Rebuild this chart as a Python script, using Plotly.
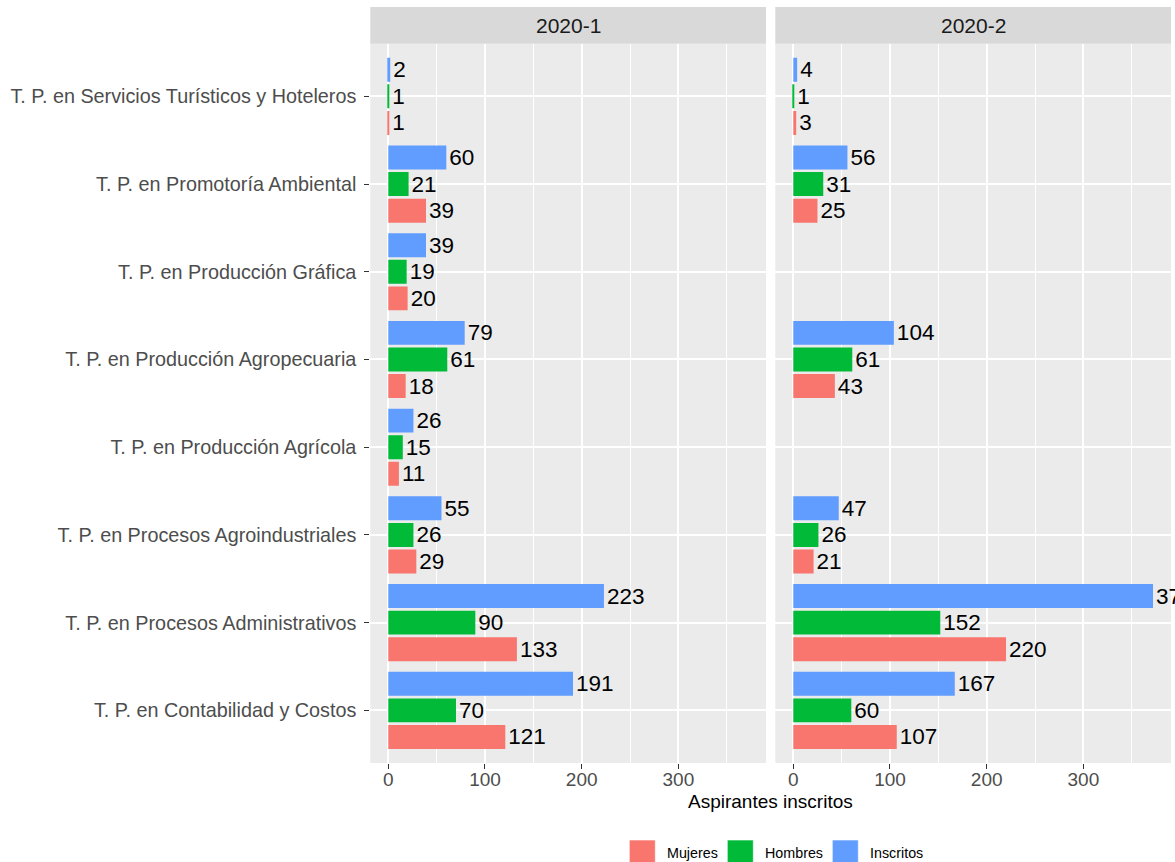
import plotly.graph_objects as go

# ---------------- data ----------------
programs = [
    "T. P. en Contabilidad y Costos",
    "T. P. en Procesos Administrativos",
    "T. P. en Procesos Agroindustriales",
    "T. P. en Producción Agrícola",
    "T. P. en Producción Agropecuaria",
    "T. P. en Producción Gráfica",
    "T. P. en Promotoría Ambiental",
    "T. P. en Servicios Turísticos y Hoteleros",
]
periods = ["2020-1", "2020-2"]
series_names = ["Mujeres", "Hombres", "Inscritos"]
series_colors = ["#F8766D", "#00BA38", "#619CFF"]

mujeres_2020_1 = [121, 133, 29, 11, 18, 20, 39, 1]
hombres_2020_1 = [70, 90, 26, 15, 61, 19, 21, 1]
inscritos_2020_1 = [191, 223, 55, 26, 79, 39, 60, 2]

mujeres_2020_2 = [107, 220, 21, None, 43, None, 25, 3]
hombres_2020_2 = [60, 152, 26, None, 61, None, 31, 1]
inscritos_2020_2 = [167, 372, 47, None, 104, None, 56, 4]

x_ticks = [0, 100, 200, 300]
x_title = "Aspirantes inscritos"

data = {
    "2020-1": [mujeres_2020_1, hombres_2020_1, inscritos_2020_1],
    "2020-2": [mujeres_2020_2, hombres_2020_2, inscritos_2020_2],
}

# ---------------- layout helpers ----------------
W, H = 1175, 862
FONT = "Arial, 'Liberation Sans', sans-serif"


def px_x(p):
    return p / W


def px_y(p):
    return 1 - p / H


panel_x = [(370.3, 766.0), (775.3, 1171.0)]
panel_top, panel_bottom = 43.7, 763.0
strip_top = 7.0
x_range = [-18.6, 390.6]

fig = go.Figure()

axis_ids = [("x", "y"), ("x2", "y2")]
for pi, period in enumerate(periods):
    xa, ya = axis_ids[pi]
    for si, name in enumerate(series_names):
        vals = data[period][si]
        xs = [v for v in vals if v is not None]
        ys = [p for p, v in zip(programs, vals) if v is not None]
        fig.add_trace(go.Bar(
            x=xs, y=ys, orientation="h", name=name,
            marker=dict(color=series_colors[si], line=dict(width=0)),
            text=[str(v) for v in xs], textposition="outside",
            textfont=dict(size=22.5, color="black", family=FONT),
            constraintext="none", cliponaxis=False,
            xaxis=xa, yaxis=ya, showlegend=False,
            hovertemplate="%{y}<br>" + name + ": %{x}<extra>" + period + "</extra>",
        ))

common_x = dict(
    range=x_range, tickvals=x_ticks, ticks="outside", ticklen=5, tickwidth=1,
    tickcolor="#333333", showline=False, zeroline=False,
    showgrid=True, gridcolor="white", gridwidth=1.6,
    minor=dict(dtick=50, tick0=0, showgrid=True, gridcolor="white", gridwidth=0.8),
    tickfont=dict(size=19, color="#4D4D4D", family=FONT),
    ticklabelstandoff=-6,
    automargin=False, fixedrange=True,
)
common_y = dict(
    type="category", categoryorder="array", categoryarray=programs,
    range=[-0.6, len(programs) - 0.4],
    domain=[px_y(panel_bottom), px_y(panel_top)],
    showgrid=True, gridcolor="white", gridwidth=1.6,
    zeroline=False, showline=False, automargin=False, fixedrange=True,
)

fig.update_layout(
    width=W, height=H,
    margin=dict(l=0, r=0, t=0, b=0),
    paper_bgcolor="white", plot_bgcolor="#EBEBEB",
    barmode="group", bargap=0.09, bargroupgap=0.1,
    font=dict(family=FONT),
    showlegend=False,
    xaxis=dict(domain=[px_x(panel_x[0][0]), px_x(panel_x[0][1])], anchor="y", **common_x),
    xaxis2=dict(domain=[px_x(panel_x[1][0]), px_x(panel_x[1][1])], anchor="y2", **common_x),
    yaxis=dict(anchor="x", ticks="outside", ticklen=5, tickwidth=1, tickcolor="#333333",
               ticklabelstandoff=4,
               tickfont=dict(size=19.8, color="#4D4D4D", family=FONT), **common_y),
    yaxis2=dict(anchor="x2", matches="y", showticklabels=False, ticks="", **common_y),
)

shapes = []
annotations = []
# facet strips
for pi, period in enumerate(periods):
    x0, x1 = panel_x[pi]
    shapes.append(dict(type="rect", xref="paper", yref="paper",
                       x0=px_x(x0), x1=px_x(x1), y0=px_y(panel_top), y1=px_y(strip_top),
                       fillcolor="#D9D9D9", line=dict(width=0), layer="below"))
    annotations.append(dict(text=period, xref="paper", yref="paper",
                            x=px_x((x0 + x1) / 2), y=px_y((panel_top + strip_top) / 2),
                            xanchor="center", yanchor="middle", showarrow=False,
                            font=dict(size=21, color="#1A1A1A", family=FONT)))

# axis title
annotations.append(dict(text=x_title, xref="paper", yref="paper",
                        x=px_x((panel_x[0][0] + panel_x[1][1]) / 2), y=px_y(801),
                        xanchor="center", yanchor="middle", showarrow=False,
                        font=dict(size=19, color="black", family=FONT)))

# legend (bottom, horizontal)
legend_keys_x = [629.3, 727.3, 832.3]
key_size = 26
for name, color, kx in zip(series_names, series_colors, legend_keys_x):
    shapes.append(dict(type="rect", xref="paper", yref="paper",
                       x0=px_x(kx), x1=px_x(kx + key_size), y0=px_y(840 + key_size), y1=px_y(840),
                       fillcolor=color, line=dict(color="rgba(255,255,255,0.6)", width=1)))
    annotations.append(dict(text=name, xref="paper", yref="paper",
                            x=px_x(kx + key_size + 10), y=px_y(853),
                            xanchor="left", yanchor="middle", showarrow=False,
                            font=dict(size=14.3, color="black", family=FONT)))

fig.update_layout(shapes=shapes, annotations=annotations)

fig.write_html(
    "out.html",
    config={"displayModeBar": False},
    post_script="document.body.style.margin='0';document.body.style.overflow='hidden';",
)
